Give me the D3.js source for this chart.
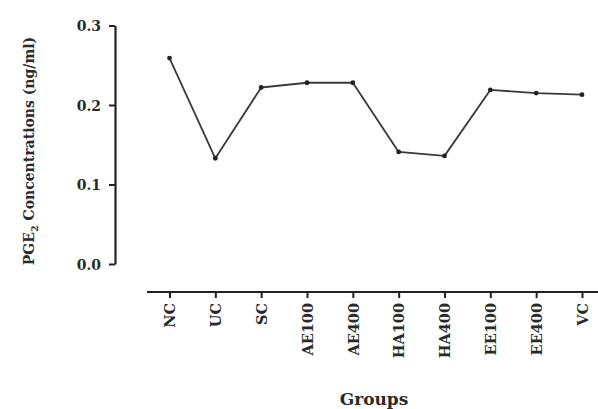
<!DOCTYPE html>
<html>
<head>
<meta charset="utf-8">
<script src="https://cdn.jsdelivr.net/npm/d3@7"></script>
<style>
  html, body { margin: 0; padding: 0; background: #fff; }
  svg text { font-family: "DejaVu Serif", "Liberation Serif", serif; font-weight: bold; fill: #2a2a2a; }
</style>
</head>
<body>
<svg id="chart" width="598" height="409"></svg>
<script>
// PGE2 concentration per treatment group
const groups = ["NC", "UC", "SC", "AE100", "AE400", "HA100", "HA400", "EE100", "EE400", "VC"];
const pge2 = [0.259, 0.133, 0.222, 0.228, 0.228, 0.141, 0.136, 0.219, 0.215, 0.213];
const yTicks = [0.0, 0.1, 0.2, 0.3];

const serif = "'DejaVu Serif', 'Liberation Serif', serif";
const svg = d3.select("#chart");

const y = d3.scaleLinear().domain([0, 0.3]).range([264, 25.5]);
const x = d3.scalePoint().domain(groups).range([169.5, 582]);

// Y axis
const yAxis = svg.append("g")
  .attr("transform", "translate(115,0)")
  .call(d3.axisLeft(y).tickValues(yTicks).tickFormat(d3.format(".1f")).tickSize(6).tickSizeOuter(0));
yAxis.select(".domain").attr("stroke", "#222").attr("stroke-width", 2.2);
yAxis.selectAll(".tick line").attr("stroke", "#222").attr("stroke-width", 2);
yAxis.selectAll(".tick text")
  .attr("x", -14).attr("dy", "0.36em")
  .style("font-family", serif).style("font-weight", "bold").style("font-size", "14px")
  .style("fill", "#2a2a2a");

// X axis (offset below the plot)
const xAxis = svg.append("g")
  .attr("transform", "translate(0,292)")
  .call(d3.axisBottom(x).tickSize(6).tickSizeOuter(0));
xAxis.select(".domain").attr("d", "M147,0H598").attr("stroke", "#222").attr("stroke-width", 2.2);
xAxis.selectAll(".tick line").attr("stroke", "#222").attr("stroke-width", 2);
xAxis.selectAll(".tick text")
  .attr("transform", "rotate(-90)")
  .attr("x", -11).attr("y", 0).attr("dy", "0.36em")
  .attr("text-anchor", "end")
  .style("font-family", serif).style("font-weight", "bold").style("font-size", "14.5px")
  .style("fill", "#2a2a2a");

// Line and points
const line = d3.line().x((d, i) => x(groups[i])).y(d => y(d));
svg.append("path")
  .datum(pge2)
  .attr("d", line)
  .attr("fill", "none")
  .attr("stroke", "#3a3a3a")
  .attr("stroke-width", 1.8)
  .attr("stroke-linejoin", "round");

svg.selectAll("circle.pt")
  .data(pge2)
  .join("circle")
  .attr("class", "pt")
  .attr("cx", (d, i) => x(groups[i]))
  .attr("cy", d => y(d))
  .attr("r", 2.4)
  .attr("fill", "#222");

// Axis titles
const yTitle = svg.append("text")
  .attr("transform", "translate(34,151) rotate(-90)")
  .attr("text-anchor", "middle")
  .style("font-size", "14px");
yTitle.append("tspan").text("PGE");
yTitle.append("tspan").style("font-size", "9.5px").attr("dy", 4).text("2");
yTitle.append("tspan").attr("dy", -4).text(" Concentrations (ng/ml)");

svg.append("text")
  .attr("x", 374).attr("y", 405)
  .attr("text-anchor", "middle")
  .style("font-size", "17px")
  .text("Groups");
</script>
</body>
</html>
